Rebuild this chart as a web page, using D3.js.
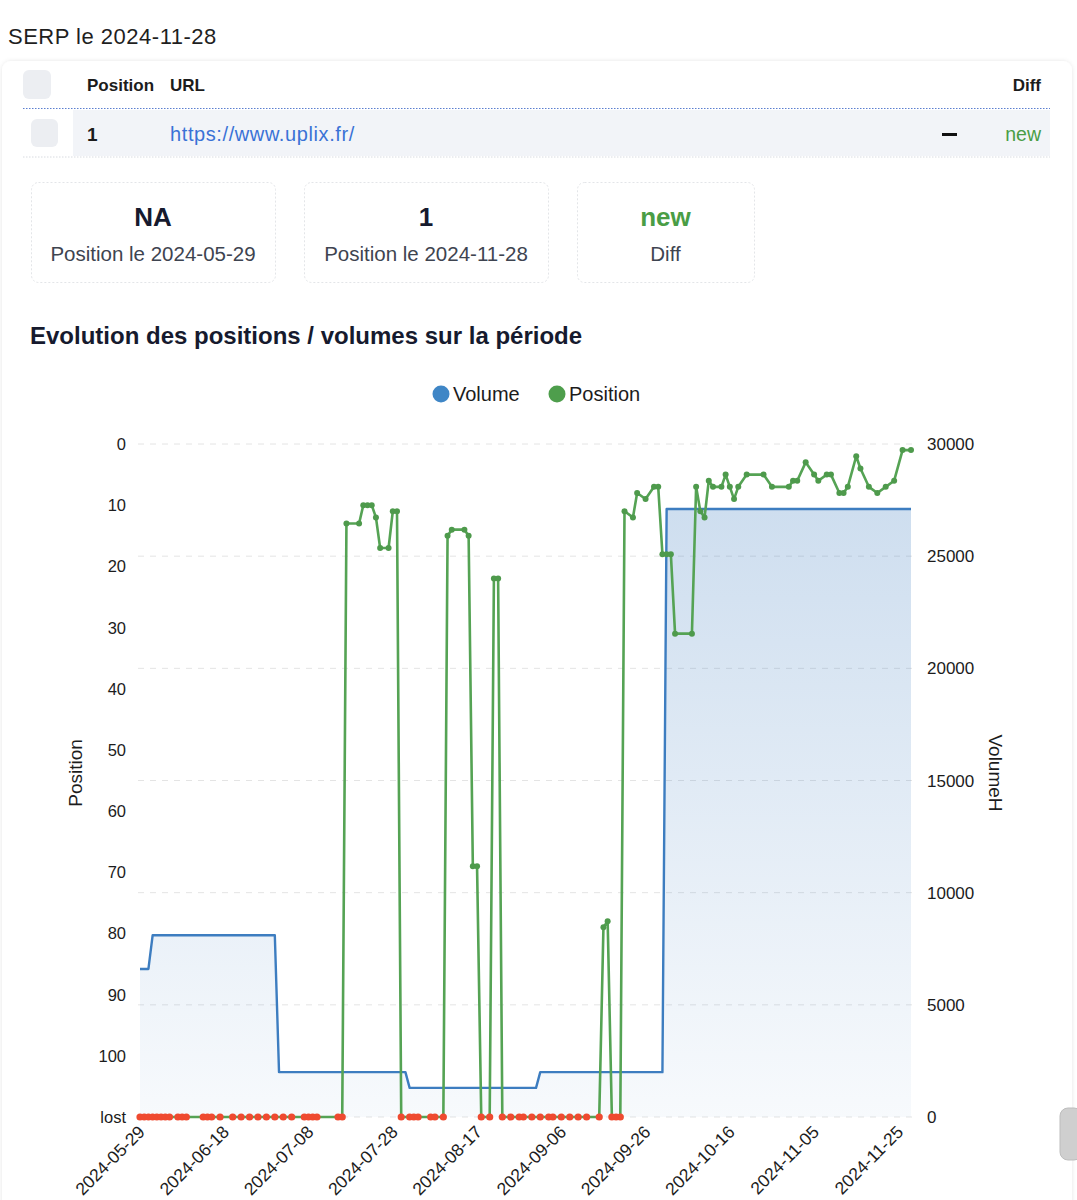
<!DOCTYPE html>
<html><head><meta charset="utf-8">
<script src="https://cdn.jsdelivr.net/npm/d3@7"></script>
<style>
html,body{margin:0;padding:0;background:#fff;}
svg{display:block;font-family:"Liberation Sans",Arial,Helvetica,sans-serif;}
</style></head>
<body><svg id="c" width="1077" height="1200"></svg>
<script>
// ---------- DATA ----------
const serpDate = "2024-11-28";
const tableHeaders = ["Position", "URL", "Diff"];
const rowPosition = "1";
const rowUrl = "https://www.uplix.fr/";
const rowDiff = "new";
const statValues = ["NA", "1", "new"];
const statLabels = ["Position le 2024-05-29", "Position le 2024-11-28", "Diff"];
const chartTitle = "Evolution des positions / volumes sur la période";
const legendItems = ["Volume", "Position"];

const xTickLabels = ["2024-05-29","2024-06-18","2024-07-08","2024-07-28","2024-08-17",
  "2024-09-06","2024-09-26","2024-10-16","2024-11-05","2024-11-25"];
const positionTicks = [0,10,20,30,40,50,60,70,80,90,100,"lost"];
const volumeTicks = [0,5000,10000,15000,20000,25000,30000];

const volumeDates = ["2024-05-29","2024-05-31","2024-06-01","2024-06-30","2024-07-01","2024-07-31",
  "2024-08-01","2024-08-31","2024-09-01","2024-09-30","2024-10-01","2024-11-28"];
const volumeValues = [6600,6600,8100,8100,2000,2000,1300,1300,2000,2000,27100,27100];

const positionDates = [
 "2024-05-29","2024-05-30","2024-05-31","2024-06-01","2024-06-02","2024-06-03","2024-06-04","2024-06-05",
 "2024-06-07","2024-06-08","2024-06-09","2024-06-13","2024-06-14","2024-06-15","2024-06-17","2024-06-20",
 "2024-06-22","2024-06-24","2024-06-26","2024-06-28","2024-06-30","2024-07-02","2024-07-04","2024-07-07",
 "2024-07-08","2024-07-09","2024-07-10","2024-07-15","2024-07-16","2024-07-17","2024-07-20","2024-07-21",
 "2024-07-22","2024-07-23","2024-07-24","2024-07-25","2024-07-27","2024-07-28","2024-07-29","2024-07-30",
 "2024-08-01","2024-08-02","2024-08-03","2024-08-06","2024-08-07","2024-08-09","2024-08-10","2024-08-11",
 "2024-08-14","2024-08-15","2024-08-16","2024-08-17","2024-08-18","2024-08-20","2024-08-21","2024-08-22",
 "2024-08-23","2024-08-25","2024-08-27","2024-08-28","2024-08-30","2024-09-01","2024-09-03","2024-09-04",
 "2024-09-06","2024-09-08","2024-09-10","2024-09-12","2024-09-15","2024-09-16","2024-09-17","2024-09-18",
 "2024-09-19","2024-09-20","2024-09-21","2024-09-23","2024-09-24","2024-09-26","2024-09-28","2024-09-29",
 "2024-09-30","2024-10-01","2024-10-02","2024-10-03","2024-10-07","2024-10-08","2024-10-09","2024-10-10",
 "2024-10-11","2024-10-12","2024-10-14","2024-10-15","2024-10-16","2024-10-17","2024-10-18","2024-10-20",
 "2024-10-24","2024-10-26","2024-10-30","2024-10-31","2024-11-01","2024-11-03","2024-11-05","2024-11-06",
 "2024-11-08","2024-11-09","2024-11-11","2024-11-12","2024-11-13","2024-11-15","2024-11-16","2024-11-18",
 "2024-11-20","2024-11-22","2024-11-24","2024-11-26","2024-11-28"];
const positionValues = [
 "lost","lost","lost","lost","lost","lost","lost","lost",
 "lost","lost","lost","lost","lost","lost","lost","lost",
 "lost","lost","lost","lost","lost","lost","lost","lost",
 "lost","lost","lost","lost","lost",13,13,10,
 10,10,12,17,17,11,11,"lost",
 "lost","lost","lost","lost","lost","lost",15,14,
 14,15,69,69,"lost","lost",22,22,
 "lost","lost","lost","lost","lost","lost","lost","lost",
 "lost","lost","lost","lost","lost",79,78,"lost",
 "lost","lost",11,12,8,9,7,7,
 18,18,18,31,31,7,11,12,
 6,7,7,5,7,9,7,5,
 5,7,7,6,6,3,5,6,
 5,5,8,8,7,2,4,7,
 8,7,6,1,1];

// ---------- DRAW ----------
const svg = d3.select("#c");
const parse = d3.timeParse("%Y-%m-%d");
const defs = svg.append("defs");

// card shadow
const sh = defs.append("filter").attr("id","sh").attr("x","-5%").attr("y","-5%").attr("width","110%").attr("height","110%");
sh.append("feDropShadow").attr("dx",0).attr("dy",0).attr("stdDeviation",2).attr("flood-color","#000").attr("flood-opacity",0.10);

svg.append("text").attr("x",8).attr("y",44).attr("font-size",22).attr("letter-spacing",0.5).attr("fill","#1f1f1f").text("SERP le " + serpDate);

svg.append("rect").attr("x",2).attr("y",61).attr("width",1070).attr("height",1160).attr("rx",9)
  .attr("fill","#fff").attr("filter","url(#sh)");

// table header
svg.append("rect").attr("x",23).attr("y",70).attr("width",28).attr("height",29).attr("rx",6).attr("fill","#eceef2");
svg.append("text").attr("x",87).attr("y",91).attr("font-size",17).attr("font-weight","bold").attr("fill","#1c1c1c").text(tableHeaders[0]);
svg.append("text").attr("x",170).attr("y",91).attr("font-size",17).attr("font-weight","bold").attr("fill","#1c1c1c").text(tableHeaders[1]);
svg.append("text").attr("x",1041).attr("y",91).attr("text-anchor","end").attr("font-size",17).attr("font-weight","bold").attr("fill","#1c1c1c").text(tableHeaders[2]);
svg.append("line").attr("x1",23).attr("x2",1050).attr("y1",108.5).attr("y2",108.5)
  .attr("stroke","#5b7fd0").attr("stroke-width",1.2).attr("stroke-dasharray","1.5,1.5");
// row
svg.append("rect").attr("x",73).attr("y",110).attr("width",977).attr("height",46).attr("fill","#f2f4f8");
svg.append("rect").attr("x",31).attr("y",119).attr("width",27).attr("height",28).attr("rx",6).attr("fill","#eceef2");
svg.append("line").attr("x1",23).attr("x2",1050).attr("y1",157).attr("y2",157)
  .attr("stroke","#d8dbe0").attr("stroke-width",1).attr("stroke-dasharray","1.5,1.5");
svg.append("text").attr("x",87).attr("y",141).attr("font-size",19).attr("font-weight","bold").attr("fill","#1c1c1c").text(rowPosition);
svg.append("text").attr("x",170).attr("y",141).attr("font-size",20).attr("letter-spacing",0.6).attr("fill","#3a72d6").text(rowUrl);
svg.append("rect").attr("x",942).attr("y",133).attr("width",15).attr("height",3).attr("fill","#111");
svg.append("text").attr("x",1041).attr("y",141).attr("text-anchor","end").attr("font-size",19.5).attr("fill","#4a9d45").text(rowDiff);

// stat cards
const cards = [[31,244],[304,244],[577,177]];
cards.forEach((c,i)=>{
  svg.append("rect").attr("x",c[0]+0.5).attr("y",182.5).attr("width",c[1]).attr("height",100).attr("rx",7)
    .attr("fill","#fff").attr("stroke","#e3e5e8").attr("stroke-dasharray","2,2");
  svg.append("text").attr("x",c[0]+c[1]/2).attr("y",226).attr("text-anchor","middle").attr("font-size",26)
    .attr("font-weight","bold").attr("fill", i===2 ? "#4a9d45" : "#161a2e").text(statValues[i]);
  svg.append("text").attr("x",c[0]+c[1]/2).attr("y",261).attr("text-anchor","middle").attr("font-size",20.5)
    .attr("fill","#3e4450").text(statLabels[i]);
});

svg.append("text").attr("x",30).attr("y",344).attr("font-size",24).attr("font-weight","bold").attr("fill","#161a2e")
  .text(chartTitle);

// legend
const legColors = ["#3f86c6","#4e9e4c"];
[[441,453],[557,569]].forEach((p,i)=>{
  svg.append("circle").attr("cx",p[0]).attr("cy",394).attr("r",8.5).attr("fill",legColors[i]);
  svg.append("text").attr("x",p[1]).attr("y",401).attr("font-size",20).attr("fill","#1c1c1c").text(legendItems[i]);
});

// scales
const x = d3.scaleTime().domain([parse("2024-05-29"), parse("2024-11-28")]).range([140, 911]);
const yPos = d3.scaleLinear().domain([0,110]).range([444,1117]);
const yVol = d3.scaleLinear().domain([0,30000]).range([1117,444]);
const posVal = v => v === "lost" ? 110 : v;

// grid (from volume axis)
svg.append("g").selectAll("line").data(volumeTicks).join("line")
  .attr("x1",138).attr("x2",913).attr("y1",d=>yVol(d)).attr("y2",d=>yVol(d))
  .attr("stroke","#e4e4e4").attr("stroke-width",1).attr("stroke-dasharray","6,6");

// volume area
const grad = defs.append("linearGradient").attr("id","vg").attr("x1",0).attr("y1",0).attr("x2",0).attr("y2",1);
grad.append("stop").attr("offset","0%").attr("stop-color","#3b7bbf").attr("stop-opacity",0.25);
grad.append("stop").attr("offset","100%").attr("stop-color","#3b7bbf").attr("stop-opacity",0.04);
const vol = volumeDates.map((d,i)=>({d:parse(d), v:volumeValues[i]}));
svg.append("path").datum(vol).attr("fill","url(#vg)")
  .attr("d", d3.area().x(d=>x(d.d)).y0(yVol(0)).y1(d=>yVol(d.v)));
svg.append("path").datum(vol).attr("fill","none").attr("stroke","#3d7dc0").attr("stroke-width",2.4)
  .attr("stroke-linejoin","round")
  .attr("d", d3.line().x(d=>x(d.d)).y(d=>yVol(d.v)));

// position line
const pos = positionDates.map((d,i)=>({d:parse(d), v:positionValues[i]}));
svg.append("path").datum(pos).attr("fill","none").attr("stroke","#55a354").attr("stroke-width",2.6)
  .attr("stroke-linejoin","round")
  .attr("d", d3.line().x(d=>x(d.d)).y(d=>yPos(posVal(d.v))));
svg.append("g").selectAll("circle").data(pos).join("circle")
  .attr("cx",d=>x(d.d)).attr("cy",d=>yPos(posVal(d.v)))
  .attr("r",d=>d.v==="lost"?3.6:3)
  .attr("fill",d=>d.v==="lost"?"#ef4a30":"#4e9a4c");

// left axis labels
svg.append("g").selectAll("text").data(positionTicks).join("text")
  .attr("x",126).attr("y",d=>yPos(posVal(d))+6).attr("text-anchor","end").attr("font-size",16.5).attr("fill","#1c1c1c")
  .text(d=>d);
// right axis labels
svg.append("g").selectAll("text").data(volumeTicks).join("text")
  .attr("x",927).attr("y",d=>yVol(d)+6).attr("font-size",17).attr("fill","#1c1c1c").text(d=>d);
// x axis labels
svg.append("g").selectAll("text").data(xTickLabels).join("text")
  .attr("transform",d=>`translate(${x(parse(d))+6},${1133}) rotate(-45)`)
  .attr("text-anchor","end").attr("font-size",17.5).attr("fill","#1c1c1c").text(d=>d);

// axis titles
svg.append("text").attr("transform","translate(82,773) rotate(-90)").attr("text-anchor","middle")
  .attr("font-size",19).attr("fill","#1c1c1c").text("Position");
svg.append("text").attr("transform","translate(989,773) rotate(90)").attr("text-anchor","middle")
  .attr("font-size",19).attr("fill","#1c1c1c").text("VolumeH");

// scrollbar hint
svg.append("rect").attr("x",1060).attr("y",1108).attr("width",22).attr("height",52).attr("rx",8)
  .attr("fill","#cfcfcf").attr("stroke","#bdbdbd");
</script></body></html>
